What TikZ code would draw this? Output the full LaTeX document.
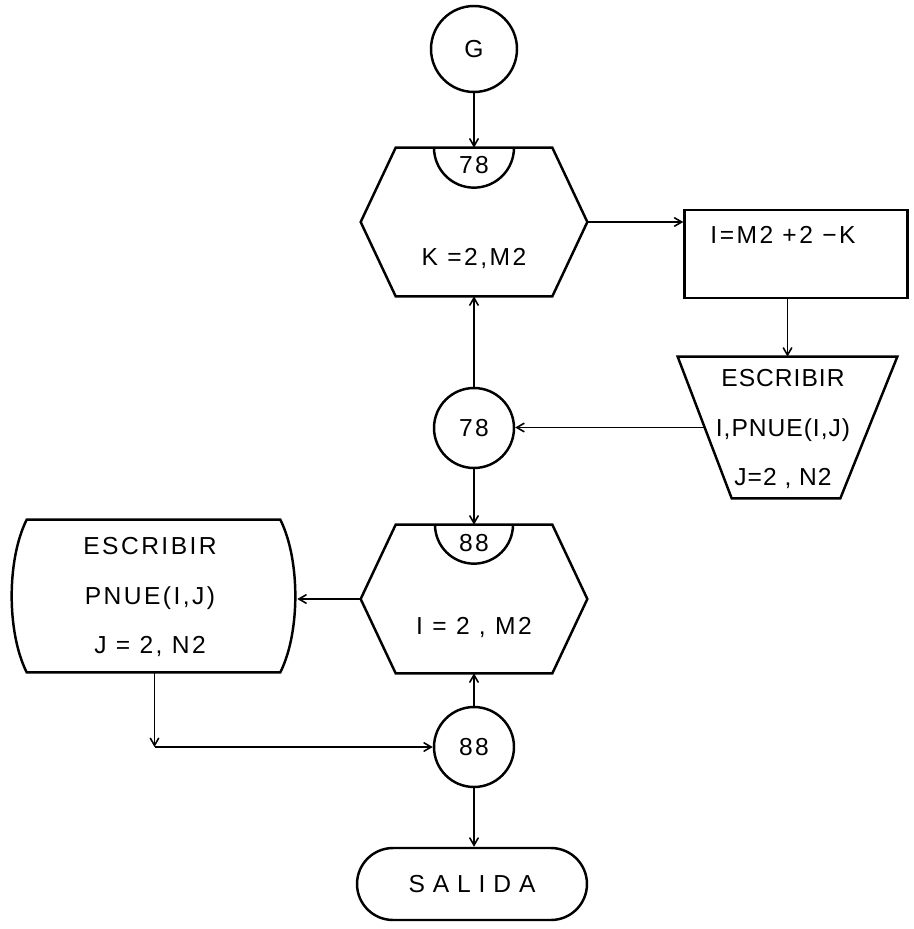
\documentclass[tikz,border=0pt]{standalone}
\usepackage{fontspec}
\usepackage{tikz}
\usetikzlibrary{arrows}
\usetikzlibrary{calc}
\newfontfamily\flowfont[LetterSpace=10]{Liberation Sans}
\newfontfamily\narrowflowfont[LetterSpace=4]{Liberation Sans}
\newfontfamily\wideflowfont[LetterSpace=32]{Liberation Sans}

\begin{document}
\begin{tikzpicture}[x=0.02cm, y=-0.02cm,
    flow line/.style={->, >=angle 60, line width=0.9pt},
    shape line/.style={line width=1.4pt},
    connector/.style={circle, draw, shape line, minimum size=1.6cm, inner sep=0pt},
    loop body/.style={rectangle, minimum width=3.12cm, minimum height=2.96cm, inner sep=0pt},
    every node/.style={color=black, font=\flowfont\fontsize{14}{28}\selectfont},
    ]

\useasboundingbox (0,0) rectangle (913,929);

%% draw circles
\node[connector, minimum size=1.72cm] (g) at (474,49) {G};
\node[connector] (c78) at (474,428) {78};
\node[connector] (c88) at (474,747) {88};

%% loop blocks
\node[loop body] (h1) at (474,222) {};
\node[loop body] (h2) at (474,599) {};
\coordinate (h1w) at ($(h1.west)-(35,0)$);  \coordinate (h1e) at ($(h1.east)+(35,0)$);
\coordinate (h2w) at ($(h2.west)-(35,0)$);  \coordinate (h2e) at ($(h2.east)+(35,0)$);
\draw[shape line] (h1.north west) -- (h1.north east) -- (h1e) -- (h1.south east) -- (h1.south west) -- (h1w) -- cycle;
\draw[shape line] (h2.north west) -- (h2.north east) -- (h2e) -- (h2.south east) -- (h2.south west) -- (h2w) -- cycle;
\draw[shape line] ($(h1.north)+(-40,0)$) arc[start angle=180, end angle=360, radius=0.8cm];
\draw[shape line] ($(h2.north)+(-39,0)$) arc[start angle=180, end angle=360, radius=0.78cm];
\node (l78) at (474,165) {78};
\node (k78) at (474,258) {K =2,M2};
\node (l88) at (474,543) {88};
\node (i88) at (474,627) {I = 2 , M2};

%% assignment and right write
\node[draw, shape line, rectangle, minimum width=4.46cm, minimum height=1.76cm] (inv) at (796,254) {};
\node (invtxt) at (783,235) {I=M2 +2 −K};
\node[rectangle, minimum width=4.38cm, minimum height=2.82cm, inner sep=0pt] (wr) at (787.5,427.5) {};
\coordinate (wrw) at ($(wr.west)+(27,0)$);
\draw[shape line] (wr.north west) -- (wr.north east) -- ($(wr.south east)+(-57,0)$) -- ($(wr.south west)+(54,0)$) -- cycle;
\node[align=center, font=\narrowflowfont\fontsize{14}{28}\selectfont] (wrtxt) at (783,429) {ESCRIBIR\\I,PNUE(I,J)\\J=2 , N2};

%% left write
\node[minimum width=5.7cm, minimum height=3.04cm, inner sep=0pt] (wl) at (154.5,596) {};
\coordinate (wlstart) at ($(wl.north west)+(15,0)$);
\draw[shape line] (wlstart) -- ($(wl.north east)+(-17,0)$)
  .. controls ($(wl.north east)+(3,40)$) and ($(wl.south east)+(3,-40)$) .. ($(wl.south east)+(-17,0)$)
  -- ($(wl.south west)+(15,0)$)
  .. controls ($(wl.south west)+(-5,-40)$) and ($(wl.north west)+(-5,40)$) .. (wlstart) -- cycle;
\node[align=center] (wltxt) at (150,597) {ESCRIBIR\\PNUE(I,J)\\J = 2, N2};

%% end
\node[draw, shape line, rounded corners=0.72cm, minimum width=4.6cm, minimum height=1.44cm,
      font=\wideflowfont\fontsize{14}{28}\selectfont] (fin) at (472,884) {SALIDA};

%% draw arrows
\draw[flow line] (g) -- (h1.north);
\draw[flow line] (h1e) -- (h1e -| inv.west);
\draw[flow line] (inv.south -| wr.north) -- (wr.north);
\draw[flow line] (wrw) -- (wrw -| c78.east);
\draw[flow line] (c78.north) -- (h1.south);
\draw[flow line] (c78.south) -- (h2.north);
\draw[flow line] (h2w) -- (h2w -| wl.east);
\coordinate (bend) at (wl.south |- c88);
\draw[flow line] (wl.south) -- (bend);
\draw[flow line] (bend) -- (c88.west);
\draw[flow line] (c88.north) -- (h2.south);
\draw[flow line] (c88.south) -- (c88.south |- fin.north);

\end{tikzpicture}
\end{document}
